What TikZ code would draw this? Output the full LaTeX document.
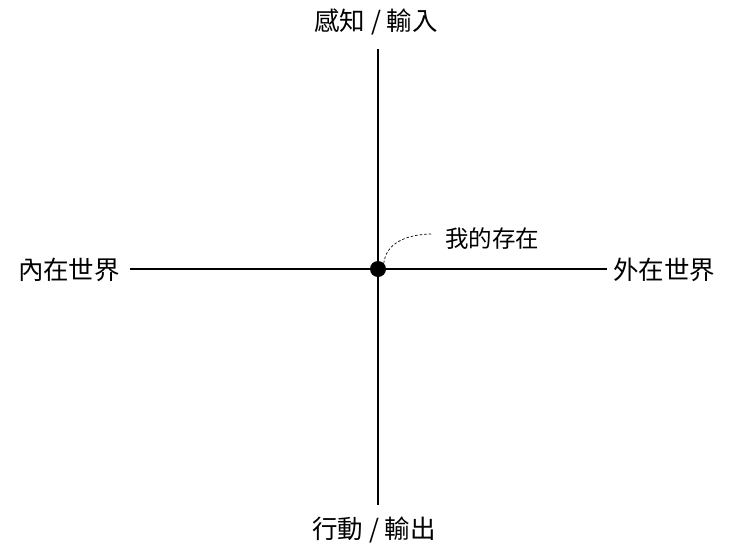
\documentclass[tikz,border=0pt]{standalone}
\usepackage{fontspec}
\setmainfont{Noto Sans CJK TC}
\begin{document}
\begin{tikzpicture}[x=1pt,y=-1pt,
  axis/.style={line width=1.6pt},
  lbl/.style={font=\fontsize{25.5}{28}\selectfont, inner sep=0pt},
  ]
\useasboundingbox (0,0) rectangle (740,555);
\node[lbl] (top) at (376,22) {感知 / 輸入};
\node[lbl] (bot) at (374,530) {行動 / 輸出};
\node[lbl] (left) at (69,270) {內在世界};
\node[lbl] (right) at (664,270) {外在世界};
\node[lbl, font=\fontsize{23.5}{26}\selectfont] (self) at (492,239) {我的存在};
\coordinate (vt) at (378,49);
\coordinate (vb) at (378,505);
\coordinate (hl) at (130,269);
\coordinate (hr) at (607,269);
\draw[axis] (vt) -- (vb);
\draw[axis] (hl) -- (hr);
\node[circle, fill=black, minimum size=16pt, inner sep=0pt] (dot) at (378,269) {};
\coordinate (dend) at (433,234);
\draw[dashed, line width=0.7pt, dash pattern=on 2.5pt off 2pt] (dot.north east) .. controls (386,244) and (405,234) .. (dend);
\end{tikzpicture}
\end{document}
